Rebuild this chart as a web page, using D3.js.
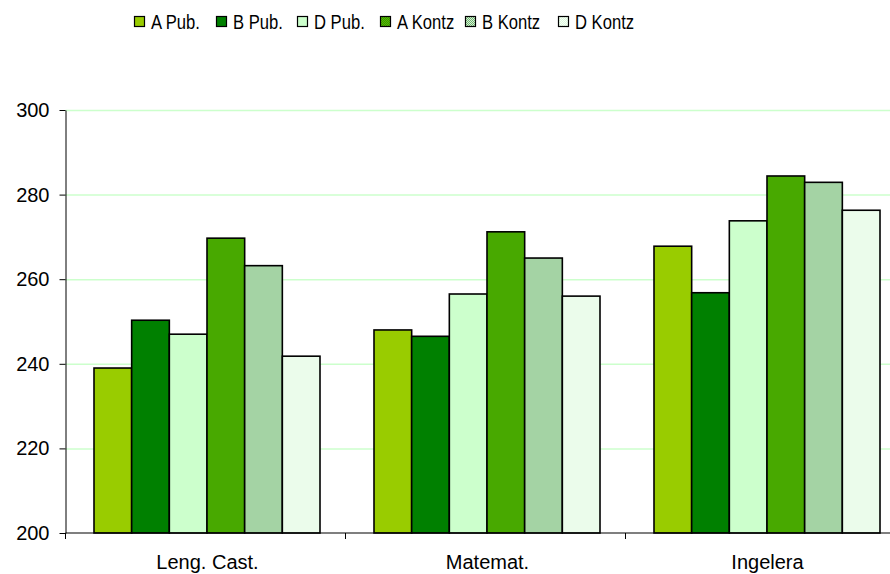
<!DOCTYPE html>
<html lang="en">
<head>
<meta charset="UTF-8">
<title>Puntuazioak</title>
<script src="https://cdn.jsdelivr.net/npm/d3@7"></script>
<style>
    body { margin: 0; background: #fff; }
    text { font-family: "Liberation Sans", Arial, sans-serif; fill: #000; }
</style>
</head>
<body>
<svg width="890" height="574"></svg>
<script>
    var categories = ["Leng. Cast.", "Matemat.", "Ingelera"];
    var seriesNames = ["A Pub.", "B Pub.", "D Pub.", "A Kontz", "B Kontz", "D Kontz"];
    var aPub   = [239.0, 248.0, 267.8];
    var bPub   = [250.3, 246.5, 256.8];
    var dPub   = [247.0, 256.5, 273.8];
    var aKontz = [269.7, 271.2, 284.4];
    var bKontz = [263.2, 265.0, 282.9];
    var dKontz = [241.8, 256.0, 276.3];
    var yTicks = [200, 220, 240, 260, 280, 300];

    var seriesValues = [aPub, bPub, dPub, aKontz, bKontz, dKontz];
    var fills = ["#99CC00", "#008000", "#CCFFCC", "url(#patA)", "url(#patB)", "url(#patD)"];

    var svg = d3.select("svg");

    // checker patterns for the "Kontz" series
    var defs = svg.append("defs");
    function checker(id, c1, c2) {
        var p = defs.append("pattern").attr("id", id)
            .attr("width", 2).attr("height", 2)
            .attr("patternUnits", "userSpaceOnUse");
        p.append("rect").attr("width", 2).attr("height", 2).attr("fill", c1);
        p.append("rect").attr("width", 1).attr("height", 1).attr("fill", c2);
        p.append("rect").attr("x", 1).attr("y", 1).attr("width", 1).attr("height", 1).attr("fill", c2);
    }
    checker("patA", "#339900", "#5CB800");
    checker("patB", "#6FB56F", "#D8F0D8");
    checker("patD", "#DDF9DD", "#F8FFF8");

    var plotLeft = 65.5, plotBottom = 533, plotTop = 110;
    var x0 = d3.scaleBand().domain(categories).range([plotLeft, plotLeft + 840]);
    var x1 = d3.scaleBand().domain(seriesNames).range([28.5, 254.5]);
    var y = d3.scaleLinear().domain([200, 300]).range([plotBottom, plotTop]);

    // gridlines
    svg.append("g").selectAll("line")
        .data(yTicks.slice(1))
        .enter().append("line")
        .attr("x1", plotLeft).attr("x2", 890)
        .attr("y1", function (d) { return y(d) + 0.5; })
        .attr("y2", function (d) { return y(d) + 0.5; })
        .attr("stroke", "#CCFFCC").attr("stroke-width", 1.5);

    // bars
    var groups = svg.append("g").selectAll("g")
        .data(categories)
        .enter().append("g")
        .attr("transform", function (d) { return "translate(" + x0(d) + ",0)"; });

    groups.selectAll("rect")
        .data(function (d, ci) {
            return seriesNames.map(function (s, si) {
                return { s: s, v: seriesValues[si][ci], f: fills[si] };
            });
        })
        .enter().append("rect")
        .attr("x", function (d) { return x1(d.s); })
        .attr("width", x1.bandwidth())
        .attr("y", function (d) { return y(d.v); })
        .attr("height", function (d) { return plotBottom - y(d.v); })
        .attr("fill", function (d) { return d.f; })
        .attr("stroke", "#000")
        .attr("stroke-width", 1.6);

    // y axis
    var yAxis = svg.append("g")
        .attr("transform", "translate(" + plotLeft + ",0)")
        .call(d3.axisLeft(y).tickValues(yTicks).tickSize(6).tickSizeOuter(0).tickPadding(10));
    yAxis.selectAll("text").style("font-size", "20px").attr("font-family", null);
    yAxis.selectAll("line,path").attr("stroke", "#000");

    // x axis
    svg.append("line")
        .attr("x1", plotLeft).attr("x2", 890)
        .attr("y1", plotBottom).attr("y2", plotBottom)
        .attr("stroke", "#000").attr("stroke-width", 1.2);
    svg.append("g").selectAll("line")
        .data(categories)
        .enter().append("line")
        .attr("x1", function (d) { return x0(d); })
        .attr("x2", function (d) { return x0(d); })
        .attr("y1", plotBottom).attr("y2", plotBottom + 6)
        .attr("stroke", "#000");
    svg.append("g").selectAll("text")
        .data(categories)
        .enter().append("text")
        .attr("x", function (d) { return x0(d) + x0.bandwidth() / 2 + 2; })
        .attr("y", 569)
        .attr("text-anchor", "middle")
        .style("font-size", "20px")
        .text(function (d) { return d; });

    // legend
    var legendX = [134, 216, 297, 380, 465, 558];
    var legend = svg.append("g").selectAll("g")
        .data(seriesNames)
        .enter().append("g")
        .attr("transform", function (d, i) { return "translate(" + legendX[i] + ",0)"; });
    legend.append("rect")
        .attr("x", 0.5).attr("y", 16.5)
        .attr("width", 10).attr("height", 10)
        .attr("fill", function (d, i) { return fills[i]; })
        .attr("stroke", "#000").attr("stroke-width", 1.2);
    legend.append("text")
        .attr("x", 17).attr("y", 29)
        .style("font-size", "20px")
        .text(function (d) { return d; })
        .each(function () {
            var w = this.getComputedTextLength();
            d3.select(this).attr("textLength", w * 0.83).attr("lengthAdjust", "spacingAndGlyphs");
        });
</script>
</body>
</html>
